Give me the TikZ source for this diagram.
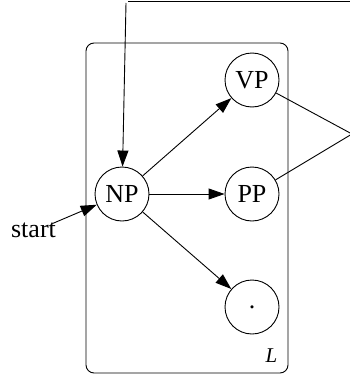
\documentclass[tikz,border=0pt]{standalone}
\usepackage{fontspec}
\setmainfont{Liberation Serif}
\usetikzlibrary{arrows.meta}
\begin{document}
\begin{tikzpicture}[x=1pt,y=-1pt,
  line width=0.9pt,
  state/.style={draw,circle,minimum size=54pt,inner sep=0pt,
    font=\fontsize{26}{30}\selectfont},
  edge/.style={-{Triangle[length=16pt,width=11pt]}},
  plain/.style={inner sep=0pt,font=\fontsize{26}{30}\selectfont}]
\useasboundingbox (0,0) rectangle (350,380);

% cluster frame
\draw[rounded corners=8pt] (86,43) rectangle (288,373);
\node[inner sep=0pt,font=\fontsize{21}{24}\selectfont\itshape] (lab) at (271.5,356) {L};

% states
\node[state] (np) at (122,194) {NP};
\node[state] (vp) at (252,80) {VP};
\node[state] (pp) at (252,194) {PP};
\node[state] (end) at (252,307) {.};
\node[plain] (start) at (33.5,230.5) {start};

% loop-back path entering from above
\coordinate (tl) at (128,1);
\coordinate (tr) at (352,1);
\coordinate (tin) at (126,3);
\coordinate (join) at (352,134);

\draw (tl) -- (tr);
\draw[edge] (tin) -- (np);
\draw (vp) -- (join);
\draw (pp) -- (join);

% transitions
\draw[edge] ([xshift=-4pt,yshift=-1pt]start.north east) -- (np);
\draw[edge] (np) -- (vp);
\draw[edge] (np) -- (pp);
\draw[edge] (np) -- (end);
\end{tikzpicture}
\end{document}
